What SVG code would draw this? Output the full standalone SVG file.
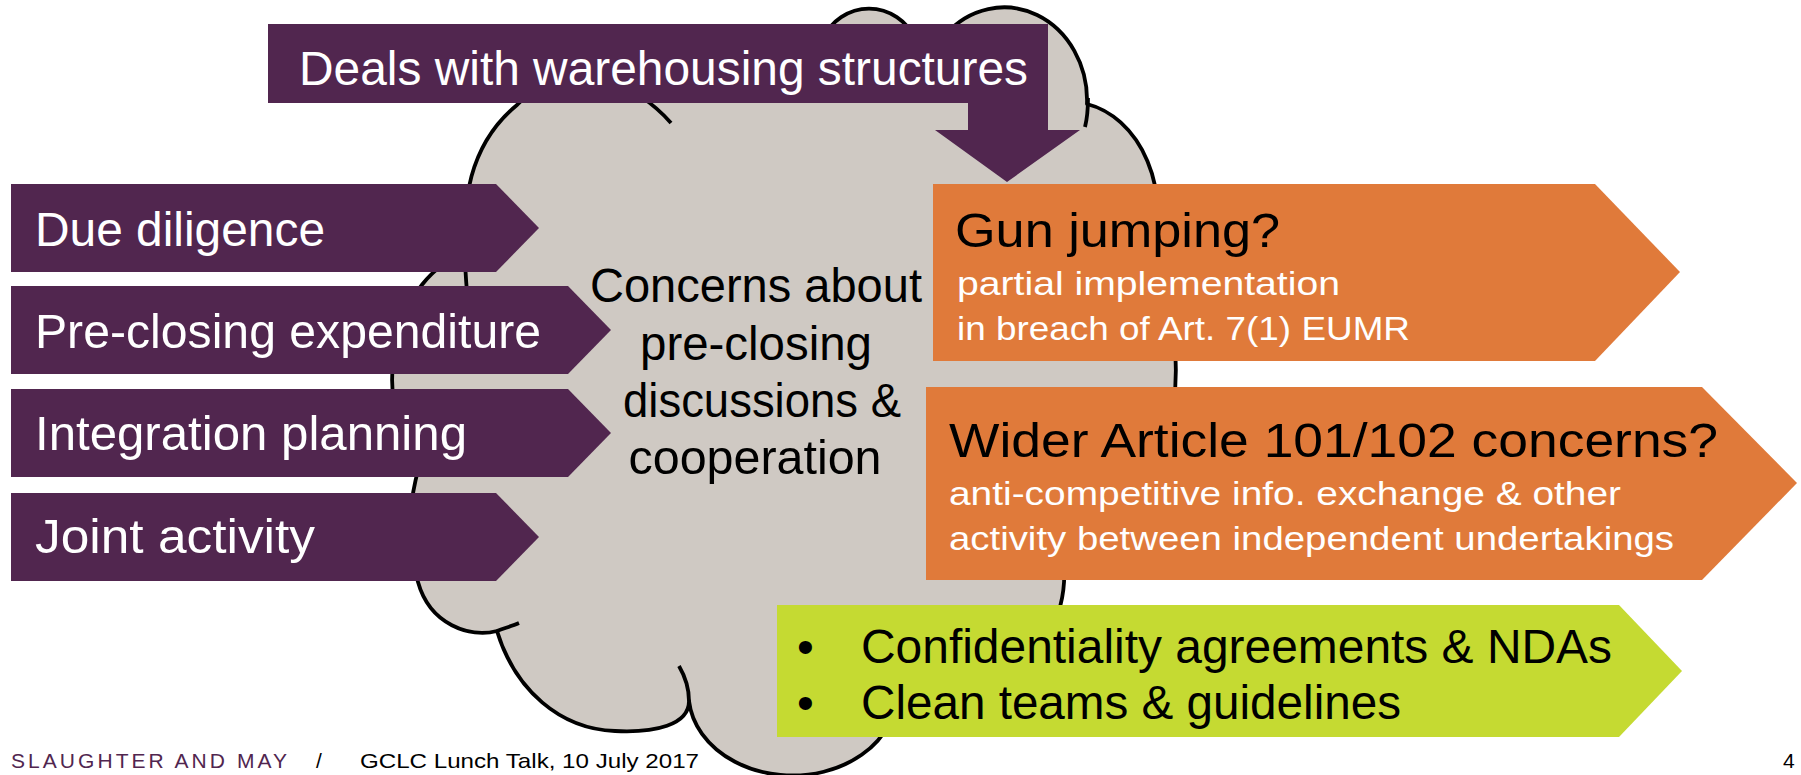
<svg xmlns="http://www.w3.org/2000/svg" width="1801" height="775" viewBox="0 0 1801 775">
  <style>
    text { font-family: "Liberation Sans", "DejaVu Sans", sans-serif; }
    .cloud { fill: #CFC9C3; stroke: #000; stroke-width: 3.8; stroke-linejoin: round; }
    .tick { fill: none; stroke: #000; stroke-width: 3.8; stroke-linecap: butt; }
    .purple { fill: #51264F; }
    .orange { fill: #E07A3A; }
    .green { fill: #C5DA32; }
    .big { font-size: 48px; }
    .small { font-size: 33px; }
    .white { fill: #FFFFFF; }
    .black { fill: #000000; }
    .foot { font-size: 21px; }
  </style>

  <!-- central cloud -->
  <g id="cloud">
    <path class="cloud" d="M465,255
      C462,205 468,145 517,105
      C545,75 575,58 610,55
      C680,50 760,45 822,40
      A52 55 0 0 1 916,40
      L945,35
      A83 93 0 0 1 1087,104
      A88 112 0 0 1 1151,257
      A146 202 0 0 1 1064,566
      A105 115 0 0 1 883,653
      A104 82 0 1 1 689,701
      C689,725 655,733 615,731
      C560,729 515,690 497,631
      C470,638 430,625 418,582
      C406,540 408,510 418,470
      A88 127 0 0 1 465,255 Z"/>
    <path class="tick" d="M465,255 C465,268 466,280 467,292"/>
    <path class="tick" d="M640,96 Q658,108 671,123"/>
    <path class="tick" d="M1088,98 Q1088,115 1085,127"/>
    <path class="tick" d="M689,701 C689,690 686,678 679,666"/>
    <path class="tick" d="M497,631 C505,628 512,626 519,623"/>
    <text class="big black" text-anchor="middle" x="756" y="302" textLength="332" lengthAdjust="spacingAndGlyphs">Concerns about</text>
    <text class="big black" text-anchor="middle" x="756" y="360" textLength="232" lengthAdjust="spacingAndGlyphs">pre-closing</text>
    <text class="big black" text-anchor="middle" x="762" y="417" textLength="278" lengthAdjust="spacingAndGlyphs">discussions &amp;</text>
    <text class="big black" text-anchor="middle" x="755" y="474" textLength="253" lengthAdjust="spacingAndGlyphs">cooperation</text>
  </g>

  <!-- banner with down arrow -->
  <g id="warehousing">
    <path class="purple" d="M268,24 H1048 V130 H1080 L1007,182 L935,130 H968 V103 H268 Z"/>
    <text class="big white" x="299" y="85" font-size="49" textLength="729" lengthAdjust="spacingAndGlyphs">Deals with warehousing structures</text>
  </g>

  <!-- left-hand arrows -->
  <g id="due-diligence">
    <path class="purple" d="M11,184 H496 L539,228 L496,272 H11 Z"/>
    <text class="big white" x="35" y="246" textLength="290" lengthAdjust="spacingAndGlyphs">Due diligence</text>
  </g>
  <g id="pre-closing-expenditure">
    <path class="purple" d="M11,286 H568 L611,330 L568,374 H11 Z"/>
    <text class="big white" x="35" y="348" textLength="506" lengthAdjust="spacingAndGlyphs">Pre-closing expenditure</text>
  </g>
  <g id="integration-planning">
    <path class="purple" d="M11,389 H568 L611,433 L568,477 H11 Z"/>
    <text class="big white" x="35" y="450" textLength="432" lengthAdjust="spacingAndGlyphs">Integration planning</text>
  </g>
  <g id="joint-activity">
    <path class="purple" d="M11,493 H496 L539,537 L496,581 H11 Z"/>
    <text class="big white" x="35" y="553" textLength="280" lengthAdjust="spacingAndGlyphs">Joint activity</text>
  </g>

  <!-- right-hand outcomes -->
  <g id="gun-jumping">
    <path class="orange" d="M933,184 H1595 L1680,272 L1595,361 H933 Z"/>
    <text class="big black" x="955" y="247" textLength="325" lengthAdjust="spacingAndGlyphs">Gun jumping?</text>
    <text class="small white" x="957" y="295" textLength="383" lengthAdjust="spacingAndGlyphs">partial implementation</text>
    <text class="small white" x="957" y="340" textLength="453" lengthAdjust="spacingAndGlyphs">in breach of Art. 7(1) EUMR</text>
  </g>
  <g id="article-101-102">
    <path class="orange" d="M926,387 H1702 L1797,483 L1702,580 H926 Z"/>
    <text class="big black" x="949" y="457" textLength="769" lengthAdjust="spacingAndGlyphs">Wider Article 101/102 concerns?</text>
    <text class="small white" x="949" y="505" textLength="672" lengthAdjust="spacingAndGlyphs">anti-competitive info. exchange &amp; other</text>
    <text class="small white" x="949" y="550" textLength="725" lengthAdjust="spacingAndGlyphs">activity between independent undertakings</text>
  </g>
  <g id="safeguards">
    <path class="green" d="M777,605 H1619 L1682,671 L1619,737 H777 Z"/>
    <text class="big black" x="797" y="663">•</text>
    <text class="big black" x="797" y="719">•</text>
    <text class="big black" x="861" y="663" textLength="751" lengthAdjust="spacingAndGlyphs">Confidentiality agreements &amp; NDAs</text>
    <text class="big black" x="861" y="719" textLength="540" lengthAdjust="spacingAndGlyphs">Clean teams &amp; guidelines</text>
  </g>

  <!-- footer -->
  <g id="footer">
    <text class="foot" x="11" y="768" fill="#51264F" textLength="276" lengthAdjust="spacing">SLAUGHTER AND MAY</text>
    <text class="foot black" x="316" y="768">/</text>
    <text class="foot black" x="360" y="768" textLength="339" lengthAdjust="spacingAndGlyphs">GCLC Lunch Talk, 10 July 2017</text>
    <text class="foot black" x="1783" y="768">4</text>
  </g>
</svg>
